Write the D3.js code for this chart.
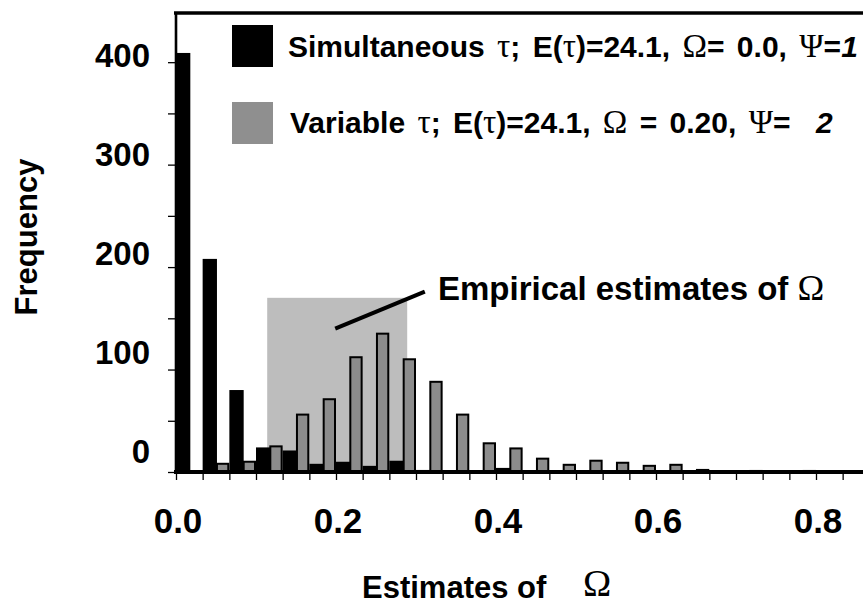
<!DOCTYPE html>
<html><head><meta charset="utf-8">
<script src="https://cdn.jsdelivr.net/npm/d3@7"></script>
<style>body{margin:0;background:#fff}svg{display:block}</style>
</head><body>
<svg id="c" width="863" height="605"></svg>
<script>
// ---- data ----
const binStarts = [0.0000,0.0333,0.0667,0.1000,0.1333,0.1667,0.2000,0.2333,0.2667,0.3000,0.3333,0.3667,0.4000,0.4333,0.4667,0.5000,0.5333,0.5667,0.6000,0.6333,0.6667,0.7000,0.7333,0.7667,0.8000,0.8333];
const binWidth = 0.0333;
const simultaneous = [409,208,80,24,21,8,10,6,11,2,1,0,4,1,0,0,0,0,0,0,0,0,0,0,0,0];
const variable     = [0,9,11,26,57,72,113,136,111,89,57,29,24,14,8,12,10,7,8,3,1,2,1,2,0,1];
const xTickValues = [0.0,0.2,0.4,0.6,0.8];
const xTickLabels = ["0.0","0.2","0.4","0.6","0.8"];
const yTickValues = [0,100,200,300,400];
const yTickLabels = ["0","100","200","300","400"];
const yMinorTicks = [0,50,100,150,200,250,300,350,400];
const empiricalRange = [0.114,0.289];
const empiricalHeight = 170;
const annotLine = [[0.199,140],[0.311,176]];
const annotPos = [0.3275,168];

// ---- layout ----
const svg = d3.select("#c");
const SANS = "'Liberation Sans', Arial, Helvetica, sans-serif";
const SERIF = "'Liberation Serif', 'Times New Roman', serif";
const x = d3.scaleLinear().domain([0,(863-176)/800]).range([176,863]);
const y = d3.scaleLinear().domain([0,448]).range([472,13]);
const yLab = d3.scaleLinear().domain([0,400]).range([462.5,67]); // label baselines

// shaded empirical region
svg.append("rect")
  .attr("x", x(empiricalRange[0])).attr("y", y(empiricalHeight))
  .attr("width", x(empiricalRange[1]) - x(empiricalRange[0]))
  .attr("height", y(0) - y(empiricalHeight))
  .attr("fill", "#bdbdbd");

// bars
const idx = d3.range(binStarts.length);
svg.append("g").selectAll("rect").data(idx).join("rect")
  .attr("x", i => x(binStarts[i]))
  .attr("width", i => x(binStarts[i] + binWidth/2) - x(binStarts[i]) + 1)
  .attr("y", i => y(simultaneous[i]))
  .attr("height", i => y(0) - y(simultaneous[i]))
  .attr("fill", "#000");
svg.append("g").selectAll("rect").data(idx.filter(i => variable[i] > 0)).join("rect")
  .attr("x", i => x(binStarts[i] + binWidth/2) + 1)
  .attr("width", i => x(binStarts[i] + binWidth) - x(binStarts[i] + binWidth/2) - 2)
  .attr("y", i => y(variable[i]) + 1)
  .attr("height", i => Math.max(0, y(0) - y(variable[i]) - 1))
  .attr("fill", "#8c8c8c").attr("stroke", "#000").attr("stroke-width", 2);

// x axis ticks
const xTicks = binStarts.concat([0.8667]);
const xAxis = svg.append("g").attr("transform", `translate(0,${y(0)})`)
  .call(d3.axisBottom(x).tickValues(xTicks).tickSize(8).tickFormat(""));
xAxis.select(".domain").remove();
xAxis.selectAll("line").attr("stroke", "#000").attr("stroke-width", 1.3);
svg.append("g").selectAll("text").data(xTickValues).join("text")
  .attr("x", d => x(d) + 2).attr("y", 533)
  .attr("text-anchor", "middle")
  .attr("font-family", SANS).attr("font-weight", "bold").attr("font-size", 35)
  .text((d,i) => xTickLabels[i]);

// y axis ticks
const yAxis = svg.append("g").attr("transform", `translate(176,0)`)
  .call(d3.axisLeft(y).tickValues(yMinorTicks).tickSize(8).tickFormat(""));
yAxis.select(".domain").remove();
yAxis.selectAll("line").attr("stroke", "#000").attr("stroke-width", 1.3);
svg.append("g").selectAll("text").data(yTickValues).join("text")
  .attr("x", 150).attr("y", d => yLab(d))
  .attr("text-anchor", "end")
  .attr("font-family", SANS).attr("font-weight", "bold").attr("font-size", 33)
  .text((d,i) => yTickLabels[i]);

// frame lines
svg.append("line").attr("x1",174).attr("x2",863).attr("y1",13).attr("y2",13).attr("stroke","#000").attr("stroke-width",3.5);
svg.append("line").attr("x1",176).attr("x2",176).attr("y1",12).attr("y2",y(0)+2).attr("stroke","#000").attr("stroke-width",2.6);
svg.append("line").attr("x1",174).attr("x2",863).attr("y1",y(0)).attr("y2",y(0)).attr("stroke","#000").attr("stroke-width",4);

// annotation
svg.append("line")
  .attr("x1", x(annotLine[0][0])).attr("y1", y(annotLine[0][1]))
  .attr("x2", x(annotLine[1][0])).attr("y2", y(annotLine[1][1]))
  .attr("stroke", "#000").attr("stroke-width", 4);
const at = svg.append("text").attr("x", x(annotPos[0])).attr("y", y(annotPos[1]))
  .attr("font-family", SANS).attr("font-weight", "bold").attr("font-size", 33);
at.append("tspan").text("Empirical estimates of ");
at.append("tspan").attr("font-family", SERIF).attr("font-weight","normal").attr("font-size", 36).text("Ω");

// legend
svg.append("rect").attr("x",232).attr("y",25).attr("width",41).attr("height",42).attr("fill","#000");
svg.append("rect").attr("x",232).attr("y",102).attr("width",41).attr("height",42).attr("fill","#8f8f8f");
function legendText(px, py, parts){
  const t = svg.append("text").attr("x",px).attr("y",py)
    .attr("font-family", SANS).attr("font-weight","bold").attr("font-size",30)
    .attr("word-spacing", 4);
  parts.forEach(p => {
    const s = t.append("tspan").text(p[0]);
    if (p[1] === "g") s.attr("font-family", SERIF).attr("font-weight","normal").attr("font-size",33);
    if (p[1] === "i") s.attr("font-style","italic");
    if (p[2] !== undefined) s.attr("x", p[2]);
  });
}
legendText(288, 57, [["Simultaneous "],["τ","g"],["; E("],["τ","g"],[")=24.1, "],["Ω","g"],["= 0.0, "],["Ψ","g"],["="],["1","i"]]);
legendText(290, 133, [["Variable "],["τ","g"],["; E("],["τ","g"],[")=24.1, "],["Ω","g"],[" = 0.20, "],["Ψ","g"],["= "],["2","i",816]]);

// axis titles
const xt = svg.append("text").attr("x", 362).attr("y", 598)
  .attr("font-family", SANS).attr("font-weight","bold").attr("font-size",31);
xt.append("tspan").text("Estimates of");
xt.append("tspan").attr("x", 583).attr("dy", -2).attr("font-family", SERIF).attr("font-weight","normal").attr("font-size",38).text("Ω");
svg.append("text").attr("transform","translate(37,237) rotate(-90)")
  .attr("text-anchor","middle")
  .attr("font-family", SANS).attr("font-weight","bold").attr("font-size",31)
  .text("Frequency");
</script>
</body></html>
